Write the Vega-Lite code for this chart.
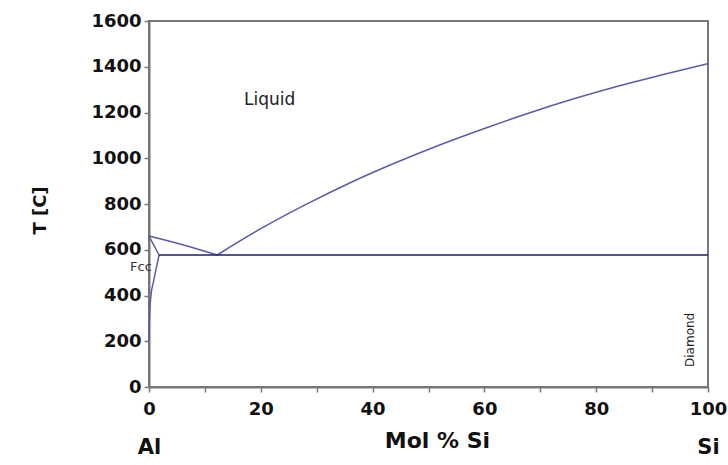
{
  "$schema": "https://vega.github.io/schema/vega-lite/v6.json",
  "width": 559,
  "height": 366,
  "autosize": "none",
  "padding": {"left": 149, "top": 21, "right": 20, "bottom": 78},
  "background": "white",
  "config": {
    "view": {"stroke": "#777777", "strokeWidth": 2},
    "font": "DejaVu Sans"
  },
  "resolve": {"axis": {"x": "independent"}},
  "layer": [
    {
      "data": {
        "values": [
          {"curve": "liqAl", "kind": "phase", "order": 1, "x": 0, "T": 660},
          {"curve": "liqAl", "kind": "phase", "order": 2, "x": 6, "T": 622},
          {"curve": "liqAl", "kind": "phase", "order": 3, "x": 12.2, "T": 577},
          {"curve": "liqSi", "kind": "phase", "order": 1, "x": 12.2, "T": 577},
          {"curve": "liqSi", "kind": "phase", "order": 2, "x": 20, "T": 692},
          {"curve": "liqSi", "kind": "phase", "order": 3, "x": 28, "T": 797},
          {"curve": "liqSi", "kind": "phase", "order": 4, "x": 36, "T": 893},
          {"curve": "liqSi", "kind": "phase", "order": 5, "x": 44, "T": 979},
          {"curve": "liqSi", "kind": "phase", "order": 6, "x": 52, "T": 1058},
          {"curve": "liqSi", "kind": "phase", "order": 7, "x": 60, "T": 1130},
          {"curve": "liqSi", "kind": "phase", "order": 8, "x": 68, "T": 1198},
          {"curve": "liqSi", "kind": "phase", "order": 9, "x": 76, "T": 1260},
          {"curve": "liqSi", "kind": "phase", "order": 10, "x": 84, "T": 1316},
          {"curve": "liqSi", "kind": "phase", "order": 11, "x": 92, "T": 1366},
          {"curve": "liqSi", "kind": "phase", "order": 12, "x": 100, "T": 1414},
          {"curve": "solidus", "kind": "phase", "order": 1, "x": 0, "T": 660},
          {"curve": "solidus", "kind": "phase", "order": 2, "x": 1.8, "T": 577},
          {"curve": "solvus", "kind": "phase", "order": 1, "x": 1.8, "T": 577},
          {"curve": "solvus", "kind": "phase", "order": 2, "x": 1.3, "T": 520},
          {"curve": "solvus", "kind": "phase", "order": 3, "x": 0.8, "T": 460},
          {"curve": "solvus", "kind": "phase", "order": 4, "x": 0.35, "T": 400},
          {"curve": "solvus", "kind": "phase", "order": 5, "x": 0.12, "T": 320},
          {"curve": "solvus", "kind": "phase", "order": 6, "x": 0.03, "T": 250},
          {"curve": "solvus", "kind": "phase", "order": 7, "x": 0, "T": 200},
          {"curve": "eutectic", "kind": "eutectic", "order": 1, "x": 1.8, "T": 577},
          {"curve": "eutectic", "kind": "eutectic", "order": 2, "x": 100, "T": 577}
        ]
      },
      "mark": {"type": "line", "strokeWidth": 1.5, "interpolate": "monotone"},
      "encoding": {
        "x": {
          "field": "x",
          "type": "quantitative",
          "scale": {"domain": [0, 100], "nice": false},
          "axis": {
            "values": [0, 10, 20, 30, 40, 50, 60, 70, 80, 90, 100],
            "labelExpr": "datum.value % 20 == 0 ? datum.label : ''",
            "grid": false,
            "labelFont": "DejaVu Sans",
            "labelFontWeight": "bold",
            "labelFontSize": 18,
            "labelColor": "#111111",
            "labelPadding": 8,
            "labelFlush": false,
            "domainColor": "#777777",
            "domainWidth": 2,
            "tickColor": "#777777",
            "tickWidth": 1.5,
            "tickSize": 5,
            "title": "Mol % Si",
            "titleFont": "DejaVu Sans",
            "titleFontWeight": "bold",
            "titleFontSize": 22,
            "titleColor": "#111111",
            "titleX": 288,
            "titleY": 53,
            "titleAlign": "center",
            "titleBaseline": "middle"
          }
        },
        "y": {
          "field": "T",
          "type": "quantitative",
          "scale": {"domain": [0, 1600], "nice": false},
          "axis": {
            "values": [0, 200, 400, 600, 800, 1000, 1200, 1400, 1600],
            "format": "d",
            "grid": false,
            "labelFont": "DejaVu Sans",
            "labelFontWeight": "bold",
            "labelFontSize": 18,
            "labelColor": "#111111",
            "labelPadding": 3,
            "labelFlush": false,
            "domainColor": "#777777",
            "domainWidth": 2,
            "tickColor": "#777777",
            "tickWidth": 1.5,
            "tickSize": 5,
            "title": "T [C]",
            "titleFont": "DejaVu Sans",
            "titleFontWeight": "bold",
            "titleFontSize": 18,
            "titleColor": "#111111",
            "titleX": -109,
            "titleY": 189,
            "titleAngle": -90,
            "titleAlign": "center",
            "titleBaseline": "middle"
          }
        },
        "detail": {"field": "curve"},
        "order": {"field": "order", "type": "quantitative"},
        "color": {
          "field": "kind",
          "type": "nominal",
          "scale": {"domain": ["phase", "eutectic"], "range": ["#5b5bab", "#1f1f5c"]},
          "legend": null
        }
      }
    },
    {
      "data": {"values": [{"x": 21.6, "T": 1254, "label": "Liquid"}]},
      "mark": {"type": "text", "fontSize": 17, "font": "DejaVu Sans", "color": "#222222", "align": "center", "baseline": "middle"},
      "encoding": {
        "x": {"field": "x", "type": "quantitative", "axis": null},
        "y": {"field": "T", "type": "quantitative"},
        "text": {"field": "label"}
      }
    },
    {
      "data": {"values": [{"x": 0.5, "T": 526, "label": "Fcc"}]},
      "mark": {"type": "text", "fontSize": 13, "font": "DejaVu Sans", "color": "#333333", "align": "right", "baseline": "middle"},
      "encoding": {
        "x": {"field": "x", "type": "quantitative", "axis": null},
        "y": {"field": "T", "type": "quantitative"},
        "text": {"field": "label"}
      }
    },
    {
      "data": {"values": [{"x": 96.8, "T": 206, "label": "Diamond"}]},
      "mark": {"type": "text", "fontSize": 12, "font": "DejaVu Sans", "color": "#222222", "align": "center", "baseline": "middle", "angle": -90},
      "encoding": {
        "x": {
          "field": "x",
          "type": "quantitative",
          "axis": {
            "orient": "bottom",
            "values": [0, 100],
            "labelExpr": "datum.value == 0 ? 'Al' : 'Si'",
            "domain": false,
            "ticks": false,
            "grid": false,
            "labelFont": "DejaVu Sans",
            "labelFontWeight": "bold",
            "labelFontSize": 21,
            "labelColor": "#111111",
            "labelPadding": 49,
            "labelFlush": false,
            "title": null
          }
        },
        "y": {"field": "T", "type": "quantitative"},
        "text": {"field": "label"}
      }
    }
  ]
}
